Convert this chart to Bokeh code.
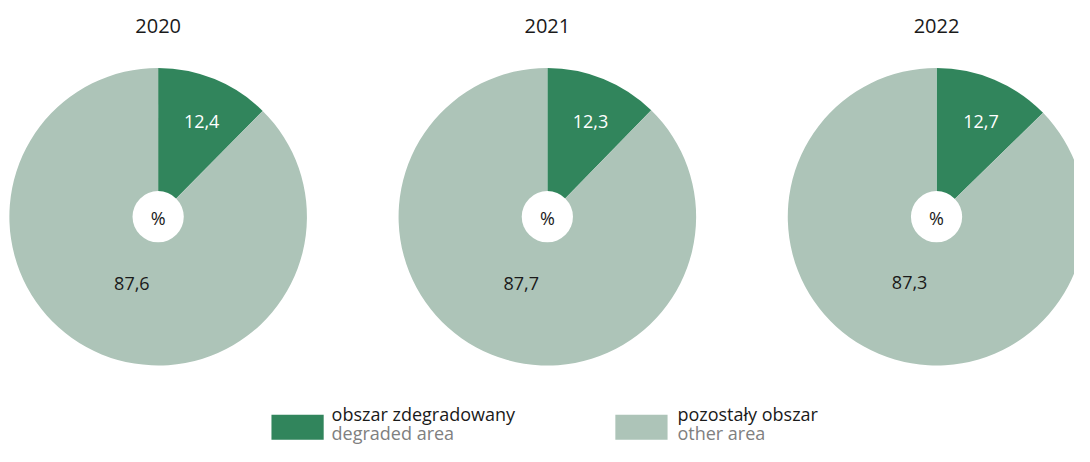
import numpy as np
from bokeh.plotting import figure
from bokeh.models import ColumnDataSource, Range1d
from bokeh.core.properties import value
from bokeh.embed import file_html
from bokeh.resources import INLINE

# ---- data ----
years = ["2020", "2021", "2022"]
degraded = [12.4, 12.3, 12.7]
other = [87.6, 87.7, 87.3]
series_pl = ["obszar zdegradowany", "pozostały obszar"]
series_en = ["degraded area", "other area"]
colors = ["#31855C", "#ADC4B8"]

FONT = value("Open Sans")
W, H = 1074, 446          # figure size in the window
RW, RH = 1090, 462        # layout space


def py(y):
    return RH - y


p = figure(width=W, height=H, x_range=Range1d(0, RW), y_range=Range1d(0, RH),
           output_backend="svg", toolbar_location=None, min_border=0)
p.axis.visible = False
p.grid.visible = False
p.outline_line_color = None

R = 151
cx = [160 + 395 * i for i in range(len(years))]
cy = [py(224)] * len(years)

d = np.array(degraded) / 100.0
o = np.array(other) / 100.0
top = np.pi / 2

# degraded slices: clockwise from top
src_d = ColumnDataSource(dict(x=cx, y=cy, start=top - 2 * np.pi * d, end=[top] * 3))
p.wedge(x="x", y="y", radius=R, start_angle="start", end_angle="end",
        source=src_d, fill_color=colors[0], line_color=None)
# other slices
src_o = ColumnDataSource(dict(x=cx, y=cy, start=[top] * 3, end=top + 2 * np.pi * o))
p.wedge(x="x", y="y", radius=R, start_angle="start", end_angle="end",
        source=src_o, fill_color=colors[1], line_color=None)

# centre holes with %
p.circle(x=cx, y=cy, radius=26, fill_color="white", line_color=None)
p.text(x=cx, y=[c - 1 for c in cy], text=["%"] * 3, text_align="center",
       text_baseline="middle", text_font=FONT, text_font_size="18px", text_color="#1a1a1a")

# value labels
mid_d = top - np.pi * d
mid_o = top - 2 * np.pi * d - np.pi * o
fmt = lambda v: f"{v:.1f}".replace(".", ",")
p.text(x=np.array(cx) + 0.70 * R * np.cos(mid_d) + 4, y=np.array(cy) + 0.70 * R * np.sin(mid_d) + 1,
       text=[fmt(v) for v in degraded], text_align="center", text_baseline="middle",
       text_font=FONT, text_font_size="18px", text_color="white")
p.text(x=np.array(cx) + 0.5 * R * np.cos(mid_o) + 2, y=np.array(cy) + 0.5 * R * np.sin(mid_o) + 1,
       text=[fmt(v) for v in other], text_align="center", text_baseline="middle",
       text_font=FONT, text_font_size="18px", text_color="#1a1a1a")

# year titles
p.text(x=cx, y=[py(26)] * 3, text=years, text_align="center", text_baseline="middle",
       text_font=FONT, text_font_size="20px", text_color="#1a1a1a")

# legend
lx = [275, 624]
p.quad(left=lx, right=[v + 53 for v in lx], top=[py(429)] * 2, bottom=[py(455)] * 2,
       fill_color=colors, line_color=None)
tx = [336, 687]
p.text(x=tx, y=[py(428)] * 2, text=series_pl, text_align="left", text_baseline="middle",
       text_font=FONT, text_font_size="18px", text_color="#1a1a1a")
p.text(x=tx, y=[py(448)] * 2, text=series_en, text_align="left", text_baseline="middle",
       text_font=FONT, text_font_size="18px", text_color="#808080")

open("out.html", "w").write(file_html(p, INLINE))
